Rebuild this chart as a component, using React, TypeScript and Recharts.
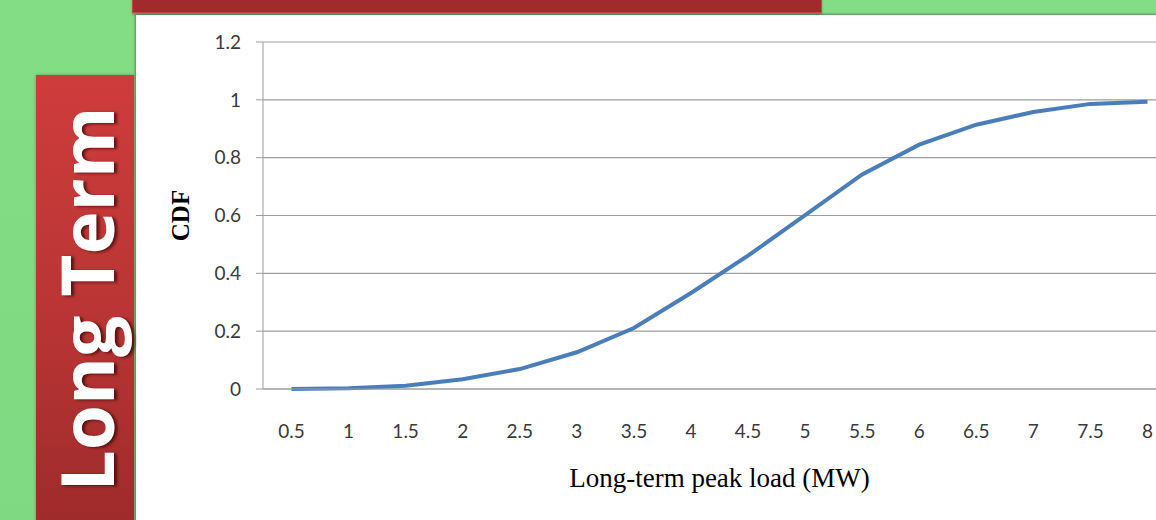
import React from 'react'
import { LineChart, Line, XAxis, YAxis, CartesianGrid } from 'recharts'

// peak load categories (MW) and cumulative probability at each
const LOADS = ['0.5', '1', '1.5', '2', '2.5', '3', '3.5', '4', '4.5', '5', '5.5', '6', '6.5', '7', '7.5', '8']
const CDF = [0, 0.003, 0.011, 0.034, 0.069, 0.127, 0.211, 0.332, 0.461, 0.601, 0.742, 0.845, 0.914, 0.958, 0.986, 0.993]
const Y_TICKS = [0, 0.2, 0.4, 0.6, 0.8, 1, 1.2]

const data = LOADS.map((load, i) => ({ load, cdf: CDF[i] }))

const GRID = '#9d9d9d'
const TICK_FONT = { fontFamily: 'Lato, "Open Sans", sans-serif', fontSize: 19, fill: '#3a3a3a' }

const CdfLabel = ({ viewBox }: any) => {
  const x = viewBox.x + 44
  const y = viewBox.y + viewBox.height / 2
  return (
    <text
      x={x}
      y={y}
      transform={`rotate(-90, ${x}, ${y})`}
      textAnchor="middle"
      dominantBaseline="central"
      fontFamily='"Liberation Serif", "Times New Roman", serif'
      fontWeight="bold"
      fontSize={25}
      fill="#000"
    >
      CDF
    </text>
  )
}

const LoadLabel = ({ viewBox }: any) => (
  <text
    x={viewBox.x + viewBox.width / 2}
    y={viewBox.y + 98}
    textAnchor="middle"
    fontFamily='"Liberation Serif", "Times New Roman", serif'
    fontSize={27}
    fill="#000"
  >
    Long-term peak load (MW)
  </text>
)

export default function App() {
  return (
    <div
      style={{
        position: 'absolute',
        left: 0,
        top: 0,
        width: 1156,
        height: 520,
        overflow: 'hidden',
        background: 'linear-gradient(180deg, #82dd84 0%, #7fd982 100%)',
      }}
    >
      {/* slide title bar, cut off at the top */}
      <div
        style={{
          position: 'absolute',
          left: 132,
          top: -4,
          width: 688,
          height: 15,
          background: '#a12a2c',
          border: '1px solid #c94646',
          boxShadow: '0 2px 2px rgba(0,0,0,0.25)',
        }}
      />

      {/* white chart panel */}
      <div
        style={{
          position: 'absolute',
          left: 136,
          top: 15,
          width: 1030,
          height: 520,
          background: '#fff',
          boxShadow: '-1px -1px 2px rgba(0,0,0,0.35)',
        }}
      />

      {/* vertical side tab */}
      <div
        style={{
          position: 'absolute',
          left: 36,
          top: 75,
          width: 98,
          height: 460,
          background: 'linear-gradient(180deg, #cf3c3c 0%, #b83434 55%, #9d2a2a 100%)',
          boxShadow: '0 0 3px rgba(0,0,0,0.3)',
        }}
      >
        <div
          style={{
            position: 'absolute',
            left: 49,
            top: 224,
            transform: 'translate(-50%, -50%) rotate(-90deg)',
            whiteSpace: 'nowrap',
            color: '#fff',
            fontFamily: '"Open Sans", sans-serif',
            fontWeight: 700,
            fontSize: 73,
            lineHeight: 1,
            textShadow: '-1px 3px 3px rgba(60,0,0,0.7)',
          }}
        >
          Long Term
        </div>
      </div>

      <div style={{ position: 'absolute', left: 0, top: 0 }}>
        <LineChart width={1180} height={520} data={data} margin={{ top: 42, right: 4, bottom: 31, left: 136 }}>
          <CartesianGrid vertical={false} stroke={GRID} strokeWidth={1.2} />
          <XAxis
            dataKey="load"
            height={100}
            padding={{ left: 28.5, right: 28.5 }}
            axisLine={{ stroke: GRID }}
            tickLine={false}
            tickSize={0}
            tickMargin={36}
            tick={TICK_FONT}
            interval={0}
            label={<LoadLabel />}
          />
          <YAxis
            width={127}
            domain={[0, 1.2]}
            ticks={Y_TICKS}
            interval={0}
            axisLine={{ stroke: GRID }}
            tickLine={{ stroke: GRID }}
            tickSize={7}
            tickMargin={15}
            tick={TICK_FONT}
            label={<CdfLabel />}
          />
          <Line
            type="linear"
            dataKey="cdf"
            stroke="#4a7ebb"
            strokeWidth={4}
            dot={false}
            isAnimationActive={false}
          />
        </LineChart>
      </div>
    </div>
  )
}
